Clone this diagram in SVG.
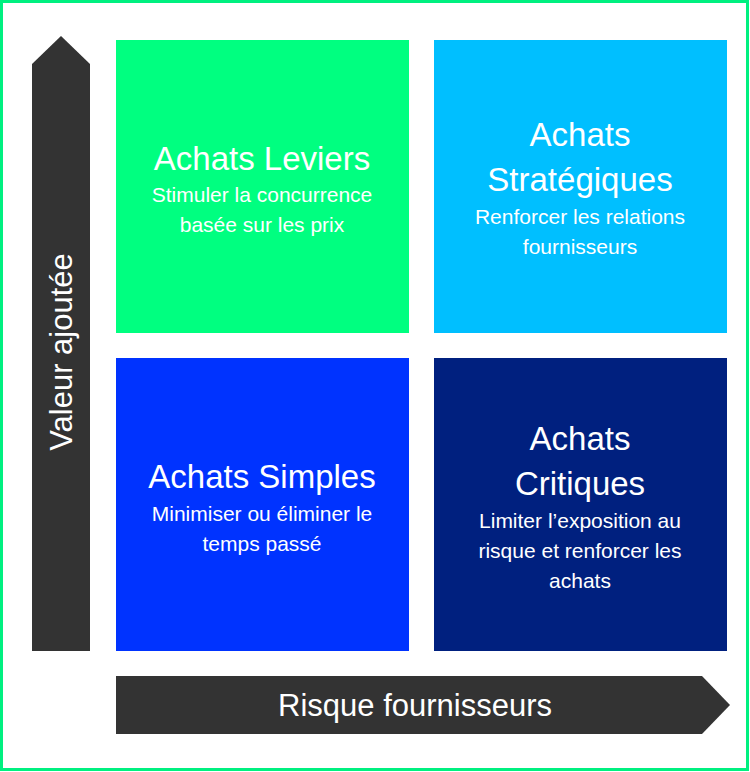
<svg xmlns="http://www.w3.org/2000/svg" width="750" height="772" viewBox="0 0 750 772">
<style>
.t{font-family:"Liberation Sans",Arial,sans-serif;fill:#fff;text-anchor:middle}
.h{font-size:33px}.s{font-size:21px}
.ar{fill:#333}
</style>
<rect x="1.5" y="1.5" width="746" height="768" fill="#fff" stroke="#00F080" stroke-width="3"/>
<g id="connectors">
<path class="ar" d="M32 651V64L61 36L90 64V651Z"/>
<path class="ar" d="M116 676H702L730 705L702 734H116Z"/>
<text class="t" font-size="31" transform="translate(72 352) rotate(-90)">Valeur ajoutée</text>
<text class="t" font-size="31" x="415" y="716">Risque fournisseurs</text>
</g>
<g id="leviers"><rect x="116" y="40" width="293" height="293" fill="#00FF80"/>
<text class="t h" x="262" y="170">Achats Leviers</text>
<text class="t s" x="262" y="202">Stimuler la concurrence</text>
<text class="t s" x="262" y="232">basée sur les prix</text></g>
<g id="strategiques"><rect x="434" y="40" width="293" height="293" fill="#00BFFF"/>
<text class="t h" x="580" y="146">Achats</text>
<text class="t h" x="580" y="191">Stratégiques</text>
<text class="t s" x="580" y="224">Renforcer les relations</text>
<text class="t s" x="580" y="254">fournisseurs</text></g>
<g id="simples"><rect x="116" y="358" width="293" height="293" fill="#0033FF"/>
<text class="t h" x="262" y="488">Achats Simples</text>
<text class="t s" x="262" y="521">Minimiser ou éliminer le</text>
<text class="t s" x="262" y="551">temps passé</text></g>
<g id="critiques"><rect x="434" y="358" width="293" height="293" fill="#00207F"/>
<text class="t h" x="580" y="450">Achats</text>
<text class="t h" x="580" y="495">Critiques</text>
<text class="t s" x="580" y="528">Limiter l’exposition au</text>
<text class="t s" x="580" y="558">risque et renforcer les</text>
<text class="t s" x="580" y="588">achats</text></g>
</svg>
